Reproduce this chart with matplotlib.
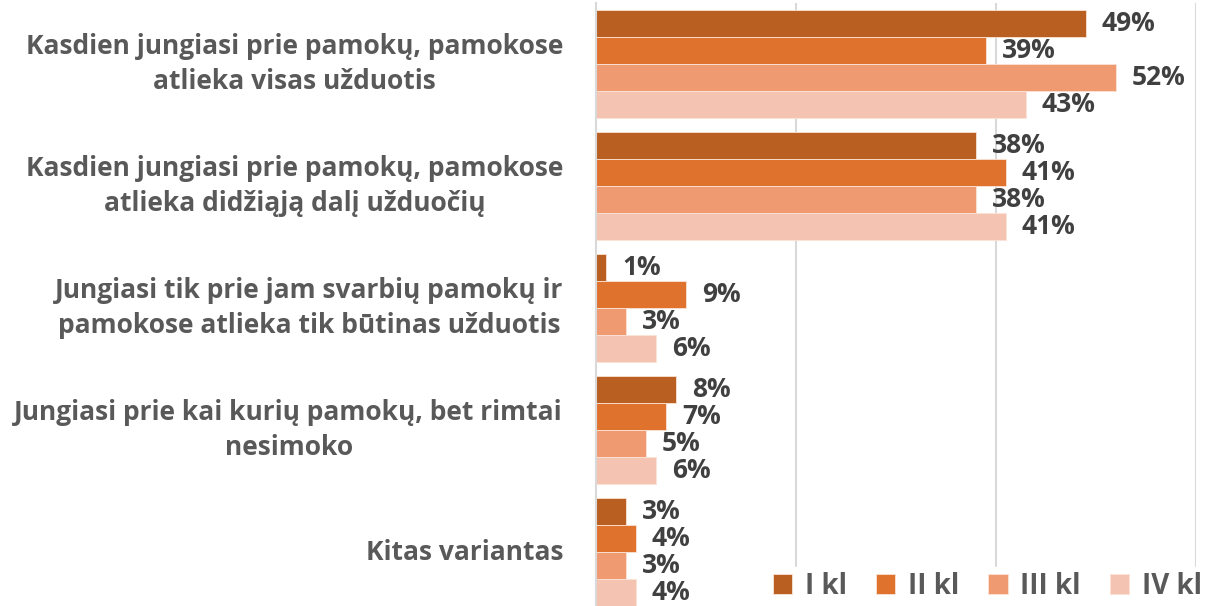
import matplotlib.pyplot as plt
import numpy as np

plt.rcParams['font.family'] = ['Open Sans', 'DejaVu Sans']

categories = ['Kasdien jungiasi prie pamokų, pamokose\natlieka visas užduotis',
              'Kasdien jungiasi prie pamokų, pamokose\natlieka didžiąją dalį užduočių',
              'Jungiasi tik prie jam svarbių pamokų ir\npamokose atlieka tik būtinas užduotis',
              'Jungiasi prie kai kurių pamokų, bet rimtai\nnesimoko',
              'Kitas variantas']
series = ['I kl', 'II kl', 'III kl', 'IV kl']
i_kl = [49, 38, 1, 8, 3]
ii_kl = [39, 41, 9, 7, 4]
iii_kl = [52, 38, 3, 5, 3]
iv_kl = [43, 41, 6, 6, 4]
colors = ['#BA5F22', '#DF722D', '#F09A72', '#F5C3B1']

W, H = 1206, 606
fig = plt.figure(figsize=(W / 100, H / 100), dpi=100)
ax = fig.add_axes([596 / W, 1 - 613 / H, 600 / W, 610 / H])

y = np.arange(len(categories))
h = 27 / 122
for k, (name, vals) in enumerate(zip(series, [i_kl, ii_kl, iii_kl, iv_kl])):
    pos = y + (k - 1.5) * h
    ax.barh(pos, vals, height=h, color=colors[k], edgecolor='#FBE3D6',
            linewidth=0.6, label=name, zorder=2)
    for p, v in zip(pos, vals):
        ax.text(v + 1.6, p, f'{v}%', va='center', ha='left', fontsize=19,
                fontweight='bold', color='#404040', zorder=3)

for i, c in enumerate(categories):
    ax.text(-3.3, i, c, ha='right', va='center', multialignment='center',
            fontsize=19, fontweight='bold', color='#595959', clip_on=False,
            linespacing=1.4)

ax.set_xlim(0, 60)
ax.set_ylim(4.5, -0.5)
ax.set_xticks([20, 40, 60])
ax.xaxis.grid(True, color='#D9D9D9', linewidth=1.5, zorder=0)
ax.tick_params(left=False, bottom=False, labelleft=False, labelbottom=False)
for s in ['top', 'right', 'bottom']:
    ax.spines[s].set_visible(False)
ax.spines['left'].set_color('#D9D9D9')
ax.spines['left'].set_linewidth(1.5)
ax.set_axisbelow(True)

leg = ax.legend(loc='center right', bbox_to_anchor=(1206 / W, 1 - 586 / H),
                bbox_transform=fig.transFigure, ncol=4, frameon=True,
                fancybox=False, edgecolor='white', facecolor='white',
                framealpha=1, fontsize=20, handlelength=0.7, handleheight=0.7,
                handletextpad=0.45, columnspacing=1.05, borderpad=0.15,
                borderaxespad=0)
for t in leg.get_texts():
    t.set_color('#595959')
    t.set_fontweight('bold')
leg.set_zorder(5)

fig.savefig('out.png', dpi=100)
